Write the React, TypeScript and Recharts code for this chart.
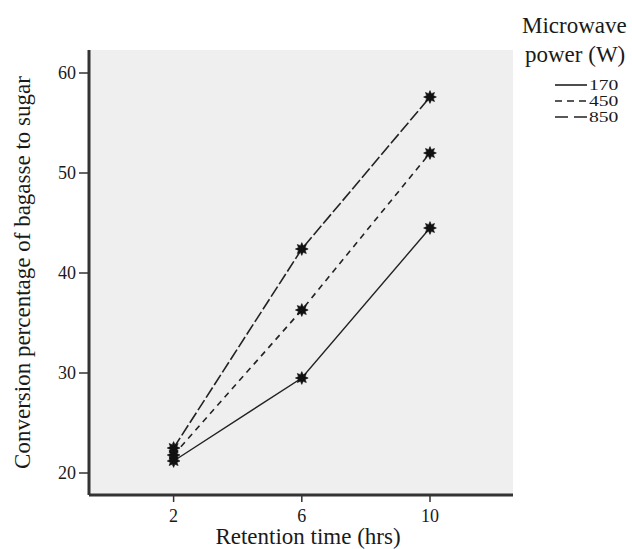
import React from 'react';
import { LineChart, Line, XAxis, YAxis, CartesianGrid, Label } from 'recharts';

const retentionTimes = [2, 6, 10];
const power170 = [21.2, 29.5, 44.5];
const power450 = [21.8, 36.3, 52.0];
const power850 = [22.5, 42.4, 57.6];
const xTicks = [2, 6, 10];
const yTicks = [20, 30, 40, 50, 60];
const legendLabels = ['170', '450', '850'];
const legendTitle = ['Microwave', 'power (W)'];
const xTitle = 'Retention time (hrs)';
const yTitle = 'Conversion percentage of bagasse to sugar';

const data = retentionTimes.map((t, i) => ({
  t,
  p170: power170[i],
  p450: power450[i],
  p850: power850[i],
}));

const FONT = '"Liberation Serif", "Times New Roman", serif';
const INK = '#1a1a1a';

const Star = (props: any) => {
  const { cx, cy } = props;
  if (cx == null || cy == null) return null;
  const pts: string[] = [];
  const n = 8;
  const ro = 6.4;
  const ri = 3.6;
  for (let k = 0; k < n * 2; k++) {
    const r = k % 2 === 0 ? ro : ri;
    const a = (Math.PI * k) / n - Math.PI / 2;
    pts.push(`${cx + r * Math.cos(a)},${cy + r * Math.sin(a)}`);
  }
  return <polygon points={pts.join(' ')} fill="#111" stroke="#111" strokeWidth={0.6} />;
};

const dashes = ['', '6 5', '12 3'];
const legendDashes = ['', '7 5', '13 6'];

export default function App() {
  return (
    <div style={{ position: 'absolute', left: 0, top: 0, width: 632, height: 549, background: '#fff', fontFamily: FONT }}>
      <LineChart
        width={632}
        height={549}
        data={data}
        margin={{ top: 50, right: 119, bottom: 0, left: 0 }}
      >
        <CartesianGrid fill="#efefef" stroke="none" horizontal={false} vertical={false} />
        <XAxis
          type="number"
          dataKey="t"
          domain={[-0.64, 12.59]}
          ticks={xTicks}
          allowDataOverflow
          height={54}
          axisLine={{ stroke: '#333', strokeWidth: 3 }}
          tickLine={{ stroke: '#333', strokeWidth: 1.5 }}
          tickSize={7}
          tickMargin={7}
          tick={{ fill: INK, fontSize: 18, fontFamily: FONT }}
        >
          <Label
            value={xTitle}
            position="insideBottom"
            offset={5}
            dx={7}
            style={{ fill: INK, fontSize: 23, fontFamily: FONT }}
          />
        </XAxis>
        <YAxis
          type="number"
          domain={[17.8, 62.3]}
          ticks={yTicks}
          allowDataOverflow
          width={89}
          axisLine={{ stroke: '#333', strokeWidth: 3 }}
          tickLine={{ stroke: '#333', strokeWidth: 1.5 }}
          tickSize={10}
          tickMargin={3}
          tick={{ fill: INK, fontSize: 18, fontFamily: FONT }}
        >
          <Label
            value={yTitle}
            angle={-90}
            position="insideLeft"
            offset={22}
            style={{ fill: INK, fontSize: 23, fontFamily: FONT, textAnchor: 'middle' }}
          />
        </YAxis>
        <Line
          dataKey="p170"
          stroke="#222"
          strokeWidth={1.4}
          dot={<Star />}
          isAnimationActive={false}
        />
        <Line
          dataKey="p450"
          stroke="#222"
          strokeWidth={1.6}
          strokeDasharray={dashes[1]}
          dot={<Star />}
          isAnimationActive={false}
        />
        <Line
          dataKey="p850"
          stroke="#222"
          strokeWidth={1.6}
          strokeDasharray={dashes[2]}
          dot={<Star />}
          isAnimationActive={false}
        />
      </LineChart>
      <svg
        width={632}
        height={549}
        style={{ position: 'absolute', left: 0, top: 0, pointerEvents: 'none' }}
      >
        <text x={522} y={33} fontSize={23} fontFamily={FONT} fill={INK}>{legendTitle[0]}</text>
        <text x={525} y={62} fontSize={23} fontFamily={FONT} fill={INK}>{legendTitle[1]}</text>
        {legendLabels.map((lab, i) => {
          const y = 85 + i * 16;
          const by = y + 5;
          return (
            <g key={lab}>
              <line x1={555} x2={587} y1={y} y2={y} stroke="#222" strokeWidth={1.6} strokeDasharray={legendDashes[i] || undefined} />
              <text x={589} y={by} fontSize={14} fontFamily={FONT} fill={INK} transform={`translate(589 ${by}) scale(1.4 1) translate(-589 ${-by})`}>{lab}</text>
            </g>
          );
        })}
      </svg>
    </div>
  );
}
